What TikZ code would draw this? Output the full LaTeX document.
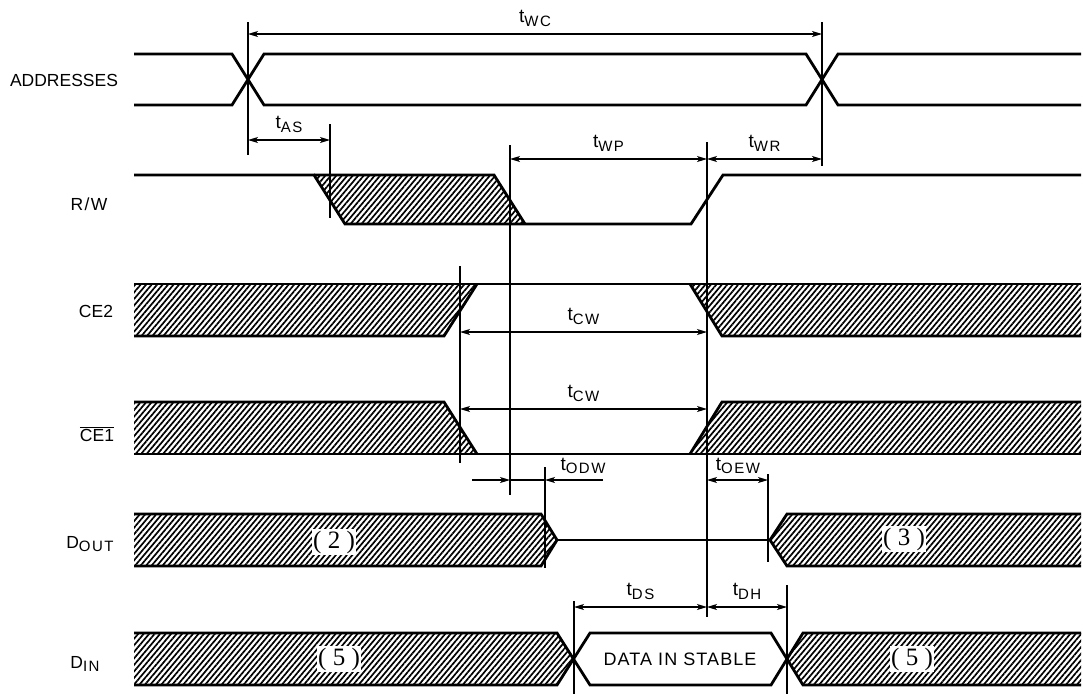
\documentclass[tikz,border=0pt]{standalone}
\usepackage{fontspec}
\setmainfont{Liberation Sans}
\newfontfamily\numfont{Liberation Serif}
\usetikzlibrary{arrows.meta,patterns.meta}
\newcommand{\lo}[1]{\raisebox{-0.35ex}{\fontsize{15}{16}\selectfont\addfontfeature{LetterSpace=10}#1}}

\begin{document}
\begin{tikzpicture}[x=1pt,y=-1pt,>={Stealth[length=10pt,width=6pt,inset=2.5pt]},
  every node/.style={font=\fontsize{17.5}{20}\selectfont,inner sep=0pt},
  sig/.style={line width=2.8pt},
  hiz/.style={line width=2pt},
  hatch/.style={pattern={Lines[angle=50,distance=4.2pt,line width=1.7pt]}},
  tick/.style={line width=1.2pt},
  dim/.style={line width=1.2pt,<->},
  tlabel/.style={above=7pt,midway,font=\fontsize{19}{22}\selectfont},
  tfree/.style={anchor=south,font=\fontsize{19}{22}\selectfont},
  note/.style={font=\numfont\fontsize{25}{28}\selectfont,fill=white,inner sep=1.5pt}]
\useasboundingbox (0,0) rectangle (1083,694);

% signal names
\node[anchor=base] (lAddr) at (64,86) {ADDRESSES};
\node[anchor=base] (lRW) at (89,210) {\addfontfeature{LetterSpace=8}R/W};
\node[anchor=base] (lCEtwo) at (96,317) {CE2};
\node[anchor=base] (lCEone) at (97,441) {$\overline{\mbox{CE1}}$};
\node[anchor=base] (lDout) at (90,548) {D\lo{OUT}};
\node[anchor=base] (lDin) at (85,668) {D\lo{IN}};

% ADDRESSES
\draw[sig] (134,54) -- (232,54) -- (264,105) -- (806,105) -- (838,54) -- (1081,54);
\draw[sig] (134,105) -- (232,105) -- (264,54) -- (806,54) -- (838,105) -- (1081,105);

% R/W
\fill[hatch] (314,175) -- (494,175) -- (525,224) -- (345,224) -- cycle;
\draw[sig] (134,175) -- (314,175) -- (345,224) -- (691,224) -- (723,175) -- (1081,175);
\draw[sig] (314,175) -- (494,175) -- (525,224);

% CE2
\fill[hatch] (134,284) -- (477,284) -- (444,336) -- (134,336) -- cycle;
\fill[hatch] (690,284) -- (1081,284) -- (1081,336) -- (722,336) -- cycle;
\draw[sig] (134,284) -- (1081,284);
\draw[sig] (134,336) -- (444,336) -- (477,284);
\draw[sig] (690,284) -- (722,336) -- (1081,336);

% CE1
\fill[hatch] (134,402) -- (444,402) -- (477,454) -- (134,454) -- cycle;
\fill[hatch] (722,402) -- (1081,402) -- (1081,454) -- (690,454) -- cycle;
\draw[sig] (134,454) -- (1081,454);
\draw[sig] (134,402) -- (444,402) -- (477,454);
\draw[sig] (690,454) -- (722,402) -- (1081,402);

% DOUT
\fill[hatch] (134,514) -- (541,514) -- (557,540) -- (541,566) -- (134,566) -- cycle;
\fill[hatch] (770,540) -- (787,514) -- (1081,514) -- (1081,566) -- (787,566) -- cycle;
\draw[sig] (134,514) -- (541,514) -- (557,540) -- (541,566) -- (134,566);
\draw[hiz] (557,540) -- (770,540);
\draw[sig] (1081,514) -- (787,514) -- (770,540) -- (787,566) -- (1081,566);
\node[note] (outA) at (334,542) {( 2 )};
\node[note] (outB) at (904,539) {( 3 )};

% DIN
\fill[hatch] (134,633) -- (557,633) -- (574,659) -- (557,685) -- (134,685) -- cycle;
\fill[hatch] (787,659) -- (803,633) -- (1081,633) -- (1081,685) -- (803,685) -- cycle;
\draw[sig] (134,633) -- (557,633) -- (590,685) -- (771,685) -- (803,633) -- (1081,633);
\draw[sig] (134,685) -- (557,685) -- (590,633) -- (771,633) -- (803,685) -- (1081,685);
\node[note] (inA) at (339,659) {( 5 )};
\node[note] (inB) at (912,659) {( 5 )};
\node[font=\fontsize{18}{20}\selectfont\addfontfeature{LetterSpace=6}] (data) at (680,659) {DATA IN STABLE};

% timing marks
\coordinate (mA) at (248,0);
\coordinate (mB) at (822,0);
\coordinate (mS) at (330,0);
\coordinate (mP) at (510,0);
\coordinate (mW) at (707,0);
\coordinate (mC) at (460,0);
\coordinate (mD) at (545,0);
\coordinate (mE) at (768,0);
\coordinate (mI) at (574,0);
\coordinate (mH) at (787,0);
\draw[tick] (mA |- 0,22) -- (mA |- 0,155);
\draw[tick] (mB |- 0,22) -- (mB |- 0,166);
\draw[tick] (mS |- 0,124) -- (mS |- 0,218);
\draw[tick] (mP |- 0,145) -- (mP |- 0,495);
\draw[tick] (mW |- 0,142) -- (mW |- 0,617);
\draw[tick] (mC |- 0,266) -- (mC |- 0,463);
\draw[tick] (mD |- 0,467) -- (mD |- 0,568);
\draw[tick] (mE |- 0,474) -- (mE |- 0,562);
\draw[tick] (mI |- 0,601) -- (mI |- 0,694);
\draw[tick] (mH |- 0,585) -- (mH |- 0,694);

% timing parameters
\draw[dim] (mA |- 0,34) -- node[tlabel] (tWC) {t\lo{WC}} (mB |- 0,34);
\draw[dim] (mA |- 0,140) -- node[tlabel] (tAS) {t\lo{AS}} (mS |- 0,140);
\draw[dim] (mP |- 0,159) -- node[tlabel] (tWP) {t\lo{WP}} (mW |- 0,159);
\draw[dim] (mW |- 0,159) -- node[tlabel] (tWR) {t\lo{WR}} (mB |- 0,159);
\draw[dim] (mC |- 0,332) -- node[tlabel] (tCWa) {t\lo{CW}} (mW |- 0,332);
\draw[dim] (mC |- 0,409) -- node[tlabel] (tCWb) {t\lo{CW}} (mW |- 0,409);
\coordinate (odwL) at (472,480);
\coordinate (odwR) at (603,480);
\draw[tick,->] (odwL) -- (mP |- odwL);
\draw[tick] (mP |- odwL) -- (mD |- odwL);
\draw[tick,->] (odwR) -- (mD |- odwR);
\node[tfree] (tODW) at (583,474) {t\lo{ODW}};
\draw[dim] (mW |- 0,480) -- (mE |- 0,480);
\node[tfree] (tOEW) at (738,474) {t\lo{OEW}};
\draw[dim] (mI |- 0,607) -- node[tlabel] (tDS) {t\lo{DS}} (mW |- 0,607);
\draw[dim] (mW |- 0,607) -- node[tlabel] (tDH) {t\lo{DH}} (mH |- 0,607);
\end{tikzpicture}
\end{document}
